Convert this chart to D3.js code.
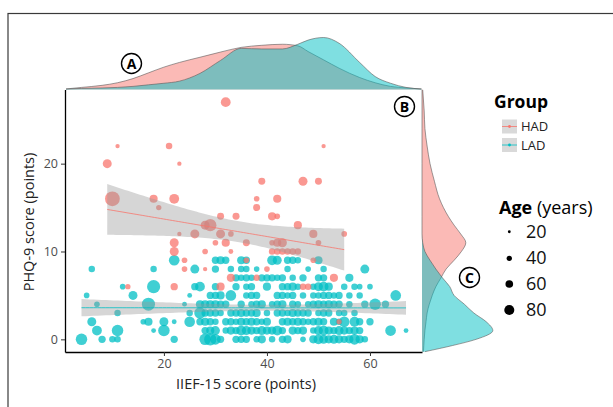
<!DOCTYPE html>
<html><head><meta charset="utf-8">
<script src="https://cdn.jsdelivr.net/npm/d3@7"></script>
<style>
body{margin:0;background:#fff}
svg{display:block}
text{font-family:"Open Sans","Noto Sans",sans-serif}
</style>
</head><body>
<svg id="chart" width="613" height="407"></svg>
<script>
// ---------------- DATA ----------------
const groups = ["HAD", "LAD"];
const groupColors = ["#F8766D", "#00BFC4"];
const xTicks = [20, 40, 60];
const yTicks = [0, 10, 20];
const ageLegend = [20, 40, 60, 80];

// [IIEF-15 score, PHQ-9 score, age]
const hadPoints = [
 [32,27,55],[11,22,22],[21,22,35],[51,22,22],[9,20,50],[23,20,22],[10,16,85],[18,16,45],[22,16,55],
 [39,18,38],[47,18,50],[50,18,38],[38,16,30],[42,16,45],[19,15,28],[38,15,38],[31,14,38],[34,14,38],
 [41,14,45],[42,14,30],[28,13,50],[29,13,70],[46,13,45],[26,12,50],[23,12,22],[31,12,50],[33,12,30],
 [49,12,45],[55,12,30],[22,11,50],[30,11,30],[32,11,45],[36,11,38],[41,11,30],[42,11,45],[43,11,50],
 [50,11,30],[22,10,50],[28,10,30],[33,10,25],[41,10,35],[42,10,35],[43,10,35],[44,10,35],[45,10,35],
 [46,10,35],[24,9,30],[36,9,30],[49,9,30],[24,8,30],[28,8,22],[40,8,30],[33,7,45],[38,7,35],[53,7,45],
 [13,6,28],[22,6,40],[31,6,45],[47,6,35],[48,6,35],[54,2,28]
];
const ladPoints = [
 [4,0,65],[8,0,40],[10,0,35],[11,0,35],[22,0,40],[28,0,65],[29,0,70],[30,0,60],[31,0,40],[34,0,40],
 [35,0,40],[36,0,40],[38,0,35],[39,0,45],[41,0,35],[43,0,40],[44,0,45],[47,0,30],[49,0,45],[50,0,55],
 [51,0,50],[52,0,45],[53,0,50],[54,0,45],[55,0,40],[56,0,45],[57,0,60],[58,0,45],[59,0,35],
 [7,1,55],[11,1,65],[18,1,25],[20,1,65],[28,1,40],[29,1,45],[30,1,50],[32,1,35],[33,1,45],[34,1,40],
 [35,1,55],[36,1,50],[37,1,45],[38,1,40],[39,1,50],[40,1,45],[41,1,45],[42,1,55],[43,1,40],[45,1,45],
 [46,1,40],[47,1,45],[49,1,35],[50,1,50],[51,1,55],[52,1,45],[53,1,40],[54,1,50],[55,1,45],[56,1,40],
 [57,1,45],[58,1,40],[64,1,60],[67,1,25],
 [6,2,50],[16,2,30],[17,2,45],[20,2,50],[22,2,25],[25,2,60],[27,2,40],[28,2,45],[29,2,40],[30,2,35],
 [32,2,40],[33,2,40],[34,2,35],[35,2,45],[36,2,40],[37,2,45],[38,2,40],[39,2,35],[40,2,45],[43,2,40],
 [44,2,45],[45,2,40],[46,2,45],[47,2,40],[48,2,35],[49,2,40],[50,2,45],[51,2,40],[53,2,45],[54,2,35],
 [55,2,60],[57,2,55],[58,2,40],[60,2,40],
 [11,3,35],[25,3,35],[27,3,65],[28,3,40],[29,3,40],[30,3,40],[31,3,35],[33,3,40],[34,3,40],[35,3,45],
 [36,3,40],[37,3,40],[38,3,45],[40,3,35],[42,3,40],[43,3,40],[44,3,35],[45,3,45],[46,3,40],[47,3,40],
 [48,3,40],[50,3,35],[51,3,40],[52,3,40],[54,3,35],[55,3,35],[57,3,35],
 [7,4,30],[17,4,75],[24,4,25],[27,4,45],[28,4,45],[29,4,45],[30,4,45],[31,4,40],[32,4,40],[35,4,40],
 [37,4,35],[38,4,40],[39,4,45],[41,4,35],[42,4,40],[43,4,45],[45,4,40],[46,4,35],[48,4,35],[49,4,40],
 [50,4,45],[51,4,40],[52,4,45],[53,4,40],[54,4,40],[56,4,35],[59,4,40],[61,4,65],[63,4,40],
 [5,5,30],[14,5,50],[25,5,25],[29,5,40],[30,5,40],[31,5,45],[33,5,60],[36,5,35],[37,5,40],[38,5,40],
 [42,5,40],[43,5,40],[44,5,35],[45,5,40],[47,5,35],[49,5,35],[50,5,35],[51,5,40],[52,5,40],[53,5,35],
 [54,5,40],[56,5,35],[58,5,35],[65,5,60],
 [12,6,30],[18,6,75],[26,6,40],[27,6,55],[30,6,40],[34,6,40],[36,6,35],[37,6,40],[40,6,45],[43,6,40],
 [44,6,40],[45,6,45],[46,6,35],[49,6,35],[50,6,50],[51,6,55],[52,6,45],[55,6,35],[57,6,35],[58,6,30],
 [60,6,30],
 [34,7,40],[35,7,35],[36,7,40],[37,7,35],[39,7,40],[40,7,40],[41,7,40],[42,7,35],[43,7,40],[45,7,35],
 [47,7,40],[50,7,40],[51,7,40],[56,7,45],
 [6,8,35],[18,8,35],[26,8,50],[30,8,40],[33,8,35],[35,8,35],[36,8,35],[38,8,30],[44,8,35],[48,8,30],
 [51,8,35],[59,8,50],
 [22,9,60],[30,9,40],[31,9,45],[32,9,40],[35,9,45],[36,9,40],[41,9,55],[42,9,50],[44,9,40],[45,9,40],
 [46,9,35],[50,9,45]
];

// marginal densities (relative density)
const topGrid = [1,4,8,11,14,17,20,23,27,31,35,39,43,46,48,51,54,58,61,64,67,70];
const topHAD  = [0.01,0.04,0.08,0.13,0.21,0.32,0.43,0.52,0.62,0.72,0.81,0.85,0.87,0.84,0.73,0.57,0.41,0.23,0.13,0.06,0.03,0.01];
const topLAD  = [0.01,0.02,0.03,0.04,0.06,0.09,0.12,0.16,0.31,0.56,0.79,0.78,0.78,0.87,0.95,1.00,0.89,0.52,0.25,0.12,0.04,0.01];
const rightGrid = [-1.4,-0.7,0,1,2,3,4,5,6,7,8,9,10,11,12,13,14,16,18,20,22,24,26,28.4];
const rightHAD  = [0.02,0.025,0.03,0.04,0.055,0.07,0.10,0.14,0.19,0.26,0.33,0.44,0.54,0.60,0.53,0.44,0.36,0.24,0.17,0.11,0.07,0.04,0.03,0.01];
const rightLAD  = [0.04,0.42,0.74,0.97,0.88,0.71,0.58,0.44,0.38,0.28,0.19,0.11,0.04,0.01,0,0,0,0,0,0,0,0,0,0];

// ---------------- LAYOUT ----------------
const svg = d3.select("#chart");
const P = {left:65, right:422, top:89.5, bottom:352};

const x = d3.scaleLinear().domain([0.8, 70.1]).range([P.left, P.right]);
const y = d3.scaleLinear().domain([-1.44, 28.44]).range([P.bottom, P.top]);
const r = d3.scaleLinear().domain([20, 85]).range([2, 7.4]);
const topH = d3.scaleLinear().domain([0, 1]).range([0, 52]);
const rightW = d3.scaleLinear().domain([0, 1]).range([0, 73]);

// outer frame
svg.append("rect").attr("x",8).attr("y",13.5).attr("width",700).attr("height",500)
  .attr("fill","none").attr("stroke","#3a3a3a").attr("stroke-width",1.2);

// ---------- marginal densities ----------
const topSeries = [topHAD, topLAD];
topSeries.forEach((vals, gi) => {
  const pts = topGrid.map((g,i)=>[g, vals[i]]);
  const area = d3.area().curve(d3.curveMonotoneX)
    .x(d=>x(d[0])).y0(P.top).y1(d=>P.top - topH(d[1]));
  const line = d3.line().curve(d3.curveMonotoneX)
    .x(d=>x(d[0])).y(d=>P.top - topH(d[1]));
  svg.append("path").attr("d", area(pts)).attr("fill", groupColors[gi]).attr("fill-opacity",0.5);
  svg.append("path").attr("d", line(pts)).attr("fill","none").attr("stroke","#5a5a5a").attr("stroke-width",0.6);
});
const rightSeries = [rightHAD, rightLAD];
rightSeries.forEach((vals, gi) => {
  const pts = rightGrid.map((g,i)=>[g, vals[i]]);
  const area = d3.area().curve(d3.curveMonotoneY)
    .y(d=>y(d[0])).x0(P.right).x1(d=>P.right + rightW(d[1]));
  const line = d3.line().curve(d3.curveMonotoneY)
    .y(d=>y(d[0])).x(d=>P.right + rightW(d[1]));
  svg.append("path").attr("d", area(pts)).attr("fill", groupColors[gi]).attr("fill-opacity",0.5);
  svg.append("path").attr("d", line(pts)).attr("fill","none").attr("stroke","#5a5a5a").attr("stroke-width",0.6);
});

// ---------- points ----------
const gPts = svg.append("g");
[ladPoints, hadPoints].forEach((arr) => {
  const gi = arr === hadPoints ? 0 : 1;
  gPts.selectAll(null).data(arr).enter().append("circle")
    .attr("cx", d=>x(d[0])).attr("cy", d=>y(d[1])).attr("r", d=>r(d[2]))
    .attr("fill", groupColors[gi]).attr("fill-opacity", 0.75);
});

// ---------- linear fits with 95% CI ----------
function fit(pts){
  const n = pts.length;
  const mx = d3.mean(pts, d=>d[0]), my = d3.mean(pts, d=>d[1]);
  let sxx=0, sxy=0;
  pts.forEach(d=>{ sxx += (d[0]-mx)**2; sxy += (d[0]-mx)*(d[1]-my); });
  const b = sxy/sxx, a = my - b*mx;
  let ss=0; pts.forEach(d=>{ ss += (d[1]-a-b*d[0])**2; });
  const s = Math.sqrt(ss/(n-2));
  const t = 1.96 + 2.4/(n-2);
  const [x0,x1] = d3.extent(pts, d=>d[0]);
  const xs = d3.range(0, 81).map(i => x0 + (x1-x0)*i/80);
  return xs.map(xv => {
    const yh = a + b*xv;
    const se = s*Math.sqrt(1/n + (xv-mx)**2/sxx);
    return {x:xv, y:yh, lo:yh - t*se, hi:yh + t*se};
  });
}
[hadPoints, ladPoints].forEach((arr, gi) => {
  const f = fit(arr);
  svg.append("path")
    .attr("d", d3.area().x(d=>x(d.x)).y0(d=>y(d.lo)).y1(d=>y(d.hi))(f))
    .attr("fill","#999999").attr("fill-opacity",0.4);
  svg.append("path")
    .attr("d", d3.line().x(d=>x(d.x)).y(d=>y(d.y))(f))
    .attr("fill","none").attr("stroke",groupColors[gi]).attr("stroke-width",0.8);
});

// ---------- axes ----------
const ax = svg.append("g").attr("transform",`translate(0,${P.bottom})`)
  .call(d3.axisBottom(x).tickValues(xTicks).tickSize(4).tickSizeOuter(0).tickPadding(3));
const ay = svg.append("g").attr("transform",`translate(${P.left},0)`)
  .call(d3.axisLeft(y).tickValues(yTicks).tickSize(4).tickSizeOuter(0).tickPadding(3));
[ax, ay].forEach(g => {
  g.select(".domain").attr("stroke","#000").attr("stroke-width",1.3);
  g.selectAll(".tick line").attr("stroke","#333").attr("stroke-width",1);
  g.selectAll(".tick text").attr("fill","#4d4d4d").style("font-size","12.5px")
    .style("font-family",'"Open Sans",sans-serif');
});

svg.append("text").attr("x",246).attr("y",389).attr("text-anchor","middle")
  .style("font-size","14.5px").attr("fill","#222").text("IIEF-15 score (points)");
svg.append("text").attr("transform","translate(34,222) rotate(-90)").attr("text-anchor","middle")
  .style("font-size","14.5px").attr("fill","#222").text("PHQ-9 score (points)");

// ---------- panel labels ----------
[["A",131.5,63.5],["B",404.5,106.5],["C",469.5,277.5]].forEach(([t,cx,cy])=>{
  svg.append("circle").attr("cx",cx).attr("cy",cy).attr("r",10)
    .attr("fill","#fff").attr("stroke","#000").attr("stroke-width",1.4);
  svg.append("text").attr("x",cx).attr("y",cy+5).attr("text-anchor","middle")
    .style("font-size","14px").style("font-weight","bold").text(t);
});

// ---------- legends ----------
svg.append("text").attr("x",494).attr("y",107.5).style("font-size","17.5px")
  .style("font-weight","bold").attr("fill","#000").text("Group");
groups.forEach((g,i)=>{
  const ky = 119.5 + i*18.5;
  svg.append("rect").attr("x",502).attr("y",ky).attr("width",15).attr("height",14).attr("fill","#d9d9d9");
  svg.append("line").attr("x1",502).attr("x2",517).attr("y1",ky+7).attr("y2",ky+7)
    .attr("stroke",groupColors[i]).attr("stroke-width",0.8);
  svg.append("circle").attr("cx",509.5).attr("cy",ky+7).attr("r",1.4).attr("fill",groupColors[i]);
  svg.append("text").attr("x",521).attr("y",ky+11.5).style("font-size","13px").attr("fill","#222").text(g);
});

const ageTitle = svg.append("text").attr("x",499).attr("y",213.5).style("font-size","18px").attr("fill","#000");
ageTitle.append("tspan").style("font-weight","bold").text("Age");
ageTitle.append("tspan").text(" (years)");
ageLegend.forEach((a,i)=>{
  const cy = [231.7,258.3,284,310][i];
  svg.append("circle").attr("cx",509.3).attr("cy",cy).attr("r",r(a)*0.72).attr("fill","#000");
  svg.append("text").attr("x",526).attr("y",cy+6).style("font-size","18px").attr("fill","#111").text(a);
});
</script>
</body></html>
